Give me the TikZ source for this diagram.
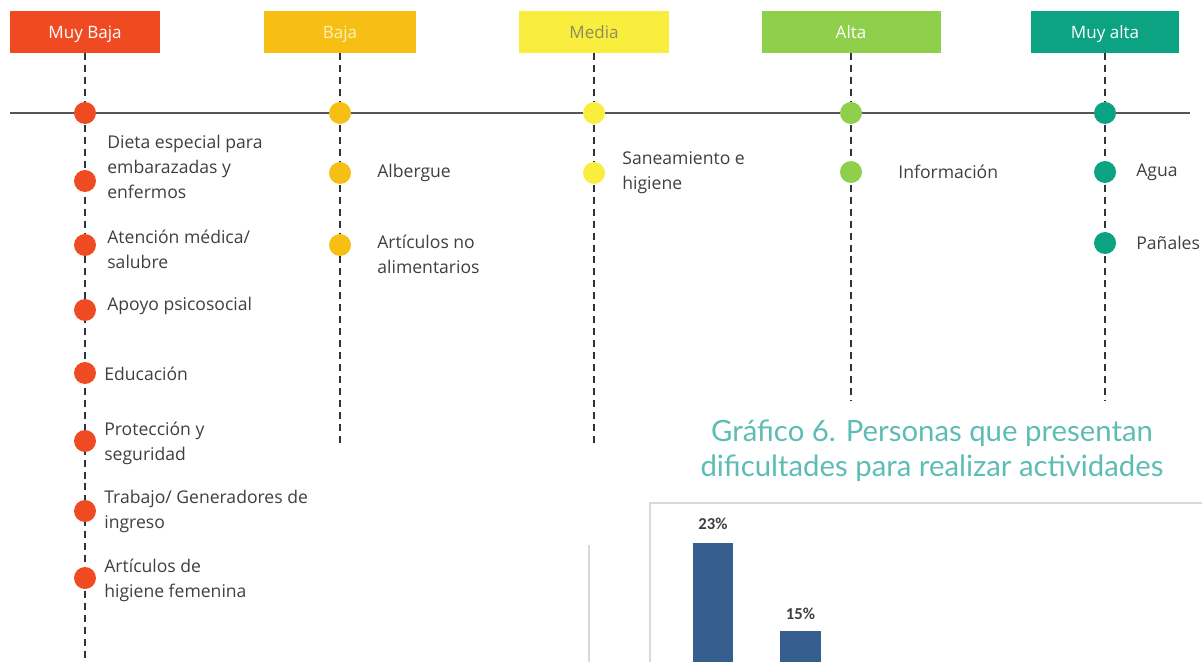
\documentclass[tikz,border=0pt]{standalone}
\usepackage{fontspec}
\setmainfont{Open Sans}
\newfontfamily\titulofont{Lato}
\newfontfamily\datofont{Carlito}

\definecolor{muybaja}{HTML}{F04A23}
\definecolor{baja}{HTML}{F7BE13}
\definecolor{media}{HTML}{F9EE3E}
\definecolor{alta}{HTML}{8FCF4B}
\definecolor{muyalta}{HTML}{0CA383}
\definecolor{texto}{HTML}{3F3F3F}
\definecolor{mediatexto}{HTML}{8C8C5E}
\definecolor{bajatexto}{HTML}{FDF0C0}
\definecolor{guiacolor}{HTML}{2E3340}
\definecolor{ejecolor}{HTML}{555555}
\definecolor{titulocolor}{HTML}{5DBDB4}
\definecolor{barra}{HTML}{365E8E}
\definecolor{marcocolor}{HTML}{D9D9D9}

\tikzset{
	nivel/.style = {fill = #1, text = white, minimum height = 0.84cm, inner sep = 0,
		text height = 7pt, text depth = 0pt, font = \fontsize{9.7}{11}\selectfont},
	punto/.style = {circle, fill = #1, minimum size = 0.44cm, inner sep = 0},
	item/.style = {anchor = west, align = left, inner sep = 0, text = texto,
		font = \fontsize{10}{14.2}\selectfont},
	guia/.style = {draw = guiacolor, line width = 0.8pt, dash pattern = on 4pt off 2.8pt},
	eje/.style = {draw = ejecolor, line width = 0.8pt},
	marco/.style = {draw = marcocolor, line width = 0.8pt},
	dato/.style = {inner sep = 0, text = texto, font = \datofont\bfseries\fontsize{9.5}{11}\selectfont}
}

\begin{document}
\begin{tikzpicture}[x = 0.02cm, y = -0.02cm]
		\useasboundingbox (0,0) rectangle (1202,662);
		% niveles
		\node[nivel = muybaja, minimum width = 3.02cm] (hmb) at (85,32) {Muy Baja};
		\node[nivel = baja, minimum width = 3.04cm, text = bajatexto] (hb) at (340,32) {Baja};
		\node[nivel = media, minimum width = 3.02cm, text = mediatexto] (hm) at (594,32) {Media};
		\node[nivel = alta, minimum width = 3.58cm] (ha) at (851,32) {Alta};
		\node[nivel = muyalta, minimum width = 2.96cm] (hma) at (1105,32) {Muy alta};
		% lineas guia
		\coordinate (fmb) at (85,662);
		\coordinate (fb) at (340,443);
		\coordinate (fm) at (594,443);
		\coordinate (fa) at (851,400);
		\coordinate (fma) at (1105,400);
		\foreach \h/\f in {hmb/fmb, hb/fb, hm/fm, ha/fa, hma/fma}
			\draw[guia] (\h) -- (\f);
		% eje
		\coordinate (ei) at (10,113);
		\coordinate (ef) at (1190,113);
		\draw[eje] (ei) -- (ef);
		\foreach \n/\x/\c in {mb/85/muybaja, b/340/baja, m/594/media, a/851/alta, ma/1105/muyalta}
			\node[punto = \c] (e\n) at (\x,113) {};
		% puntos
		\foreach \y [count = \i] in {181,245,310,373,441,511,578}
			\node[punto = muybaja] (mb\i) at (85,\y) {};
		\foreach \y [count = \i] in {173,245}
			\node[punto = baja] (b\i) at (340,\y) {};
		\node[punto = media] (m1) at (594,173) {};
		\node[punto = alta] (a1) at (851,172) {};
		\foreach \y [count = \i] in {172,243}
			\node[punto = muyalta] (ma\i) at (1105,\y) {};
		% textos
		\node[item] (tmb1) at (107,167) {Dieta especial para\\embarazadas y\\enfermos};
		\node[item] (tmb2) at (107,249.5) {Atención médica/\\salubre};
		\node[item] (tmb3) at (107,306) {Apoyo psicosocial};
		\node[item] (tmb4) at (104,374) {Educación};
		\node[item] (tmb5) at (104,443) {Protección y\\seguridad};
		\node[item] (tmb6) at (104,511.5) {Trabajo/ Generadores de\\ingreso};
		\node[item] (tmb7) at (104,580) {Artículos de\\higiene femenina};
		\node[item] (tb1) at (377,173) {Albergue};
		\node[item] (tb2) at (377,254.5) {Artículos no\\alimentarios};
		\node[item] (tm1) at (622,173) {Saneamiento e\\higiene};
		\node[item] (ta1) at (898,172) {Información};
		\node[item] (tma1) at (1136,172) {Agua};
		\node[item] (tma2) at (1136,243) {Pañales};
		% grafico
		\node[text = titulocolor, align = center, inner sep = 0,
			font = \titulofont\fontsize{16.7}{20}\selectfont] (titulo) at (932,451)
			{Gráfico 6. Personas que presentan\\dificultades para realizar actividades};
		\draw[marco] (589,545) -- (589,662);
		\draw[marco] (650,662) -- (650,503) -- (1202,503);
		\fill[barra] (693,543) rectangle (733,662);
		\fill[barra] (780,631) rectangle (821,662);
		\node[dato] (d1) at (713,524) {23\%};
		\node[dato] (d2) at (800.5,614) {15\%};
	\end{tikzpicture}
\end{document}
